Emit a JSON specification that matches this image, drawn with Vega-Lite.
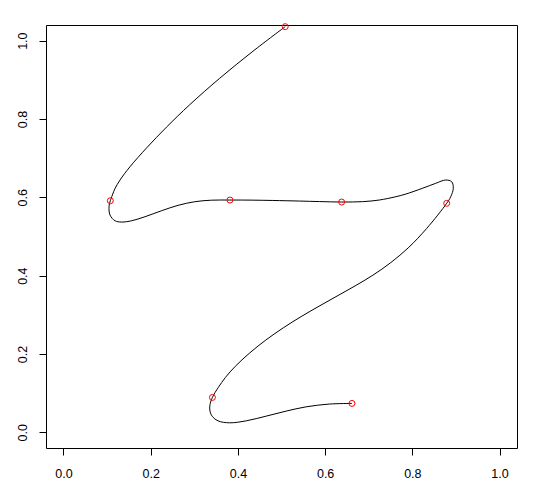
{
  "$schema": "https://vega.github.io/schema/vega-lite/v6.json",
  "width": 471,
  "height": 423,
  "autosize": {"type": "none"},
  "padding": {"left": 46, "top": 25, "right": 16, "bottom": 45},
  "background": "white",
  "config": {
    "view": {"stroke": "black", "strokeWidth": 1},
    "axis": {
      "domain": false,
      "grid": false,
      "ticks": true,
      "tickSize": 7,
      "tickColor": "black",
      "tickWidth": 1,
      "labelFont": "Liberation Sans",
      "labelFontSize": 12.5,
      "labelColor": "black",
      "title": null
    }
  },
  "datasets": {
    "curve": [
      {"i": 1, "x": 0.5085, "y": 1.0358},
      {"i": 2, "x": 0.4344, "y": 0.9729},
      {"i": 3, "x": 0.3583, "y": 0.9040},
      {"i": 4, "x": 0.2897, "y": 0.8366},
      {"i": 5, "x": 0.2364, "y": 0.7793},
      {"i": 6, "x": 0.1907, "y": 0.7262},
      {"i": 7, "x": 0.1525, "y": 0.6780},
      {"i": 8, "x": 0.1296, "y": 0.6440},
      {"i": 9, "x": 0.1182, "y": 0.6222},
      {"i": 10, "x": 0.1091, "y": 0.5966},
      {"i": 11, "x": 0.1075, "y": 0.5913},
      {"i": 12, "x": 0.1045, "y": 0.5760},
      {"i": 13, "x": 0.1068, "y": 0.5548},
      {"i": 14, "x": 0.1182, "y": 0.5402},
      {"i": 15, "x": 0.1335, "y": 0.5369},
      {"i": 16, "x": 0.1564, "y": 0.5402},
      {"i": 17, "x": 0.1868, "y": 0.5504},
      {"i": 18, "x": 0.2250, "y": 0.5658},
      {"i": 19, "x": 0.2629, "y": 0.5796},
      {"i": 20, "x": 0.3011, "y": 0.5888},
      {"i": 21, "x": 0.3393, "y": 0.5927},
      {"i": 22, "x": 0.3818, "y": 0.5931},
      {"i": 23, "x": 0.4344, "y": 0.5928},
      {"i": 24, "x": 0.4801, "y": 0.5920},
      {"i": 25, "x": 0.5412, "y": 0.5905},
      {"i": 26, "x": 0.5869, "y": 0.5892},
      {"i": 27, "x": 0.6379, "y": 0.5880},
      {"i": 28, "x": 0.6859, "y": 0.5890},
      {"i": 29, "x": 0.7240, "y": 0.5931},
      {"i": 30, "x": 0.7622, "y": 0.6016},
      {"i": 31, "x": 0.7851, "y": 0.6084},
      {"i": 32, "x": 0.8230, "y": 0.6230},
      {"i": 33, "x": 0.8537, "y": 0.6358},
      {"i": 34, "x": 0.8765, "y": 0.6442},
      {"i": 35, "x": 0.8903, "y": 0.6398},
      {"i": 36, "x": 0.8939, "y": 0.6230},
      {"i": 37, "x": 0.8880, "y": 0.6015},
      {"i": 38, "x": 0.8788, "y": 0.5847},
      {"i": 39, "x": 0.8331, "y": 0.5208},
      {"i": 40, "x": 0.7920, "y": 0.4725},
      {"i": 41, "x": 0.7508, "y": 0.4335},
      {"i": 42, "x": 0.7096, "y": 0.4013},
      {"i": 43, "x": 0.6685, "y": 0.3737},
      {"i": 44, "x": 0.6273, "y": 0.3479},
      {"i": 45, "x": 0.5862, "y": 0.3221},
      {"i": 46, "x": 0.5450, "y": 0.2955},
      {"i": 47, "x": 0.5039, "y": 0.2667},
      {"i": 48, "x": 0.4627, "y": 0.2345},
      {"i": 49, "x": 0.4262, "y": 0.2018},
      {"i": 50, "x": 0.3941, "y": 0.1686},
      {"i": 51, "x": 0.3713, "y": 0.1400},
      {"i": 52, "x": 0.3553, "y": 0.1149},
      {"i": 53, "x": 0.3416, "y": 0.0891},
      {"i": 54, "x": 0.3354, "y": 0.0651},
      {"i": 55, "x": 0.3393, "y": 0.0439},
      {"i": 56, "x": 0.3544, "y": 0.0294},
      {"i": 57, "x": 0.3811, "y": 0.0243},
      {"i": 58, "x": 0.4193, "y": 0.0294},
      {"i": 59, "x": 0.4650, "y": 0.0414},
      {"i": 60, "x": 0.5107, "y": 0.0542},
      {"i": 61, "x": 0.5565, "y": 0.0651},
      {"i": 62, "x": 0.6097, "y": 0.0722},
      {"i": 63, "x": 0.6616, "y": 0.0738}
    ],
    "pts": [
      {"x": 0.5085, "y": 1.0358},
      {"x": 0.1075, "y": 0.5913},
      {"x": 0.3818, "y": 0.5931},
      {"x": 0.6379, "y": 0.5880},
      {"x": 0.8788, "y": 0.5847},
      {"x": 0.3416, "y": 0.0891},
      {"x": 0.6616, "y": 0.0738}
    ]
  },
  "layer": [
    {
      "data": {"name": "curve"},
      "mark": {"type": "line", "color": "black", "strokeWidth": 1, "interpolate": "catmull-rom"},
      "encoding": {
        "x": {"field": "x", "type": "quantitative", "scale": {"domain": [-0.04, 1.04], "nice": false, "zero": false},
              "axis": {"values": [0, 0.2, 0.4, 0.6, 0.8, 1], "format": ".1f", "labelPadding": 12}},
        "y": {"field": "y", "type": "quantitative", "scale": {"domain": [-0.04, 1.04], "nice": false, "zero": false},
              "axis": {"values": [0, 0.2, 0.4, 0.6, 0.8, 1], "format": ".1f", "labelAngle": -90, "labelAlign": "center", "labelBaseline": "bottom", "labelPadding": 10}},
        "order": {"field": "i", "type": "quantitative"}
      }
    },
    {
      "data": {"name": "pts"},
      "mark": {"type": "point", "shape": "circle", "filled": false, "stroke": "red", "strokeWidth": 1, "size": 36, "opacity": 1},
      "encoding": {
        "x": {"field": "x", "type": "quantitative"},
        "y": {"field": "y", "type": "quantitative"}
      }
    }
  ]
}
